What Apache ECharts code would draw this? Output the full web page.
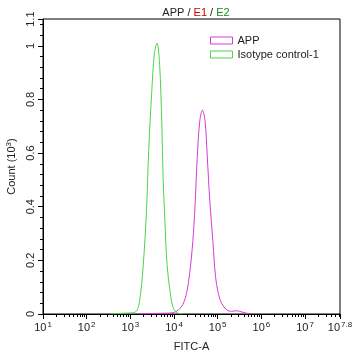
<!DOCTYPE html>
<html>
<head>
<meta charset="utf-8">
<script src="https://cdn.jsdelivr.net/npm/echarts@6/dist/echarts.min.js"></script>
<style>
  html, body { margin: 0; padding: 0; background: #fff; }
  #main { width: 354px; height: 357px; }
</style>
</head>
<body>
<div id="main"></div>
<script>
// x values are log10(FITC-A), y values are counts in 10^3
const appX = [3.2, 3.5, 3.8, 3.98, 4.10, 4.20, 4.29, 4.36, 4.43, 4.48, 4.53, 4.59, 4.65, 4.71, 4.76, 4.82, 4.89, 4.95, 5.01, 5.09, 5.21, 5.32, 5.42, 5.5, 5.63, 5.79];
const appY = [0, 0.002, 0.003, 0.005, 0.015, 0.035, 0.08, 0.155, 0.27, 0.40, 0.58, 0.72, 0.76, 0.72, 0.59, 0.42, 0.27, 0.14, 0.08, 0.04, 0.015, 0.01, 0.012, 0.01, 0.004, 0];
const isoX = [2.55, 2.7, 2.85, 3.0, 3.1, 3.17, 3.23, 3.29, 3.37, 3.42, 3.49, 3.55, 3.61, 3.67, 3.72, 3.75, 3.79, 3.84, 3.91, 3.98, 4.06, 4.14, 4.2];
const isoY = [0, 0.002, 0.003, 0.004, 0.006, 0.02, 0.07, 0.17, 0.386, 0.61, 0.83, 0.97, 1.01, 0.93, 0.71, 0.51, 0.35, 0.185, 0.083, 0.023, 0.006, 0.001, 0];

const xMajor = [1, 2, 3, 4, 5, 6, 7, 7.8];
const yMajor = [0, 0.2, 0.4, 0.6, 0.8, 1, 1.1];

// log minor ticks (2..9 of each decade)
let xMinor = [];
for (let d = 1; d < 8; d++) {
  for (let k = 2; k <= 9; k++) {
    let v = d + Math.log10(k);
    if (v < 7.8) xMinor.push(v);
  }
}
let yMinor = [];
for (let i = 1; i * 0.04 < 1.1; i++) {
  if (i % 5 !== 0) yMinor.push(+(i * 0.04).toFixed(2));
}

const zip = (xs, ys) => xs.map((x, i) => [x, ys[i]]);
const font = 'Liberation Sans, Arial, sans-serif';
const magenta = '#d43ad4';
const green = '#4cd44c';

let myChart = echarts.init(document.querySelector('#main'));
let option = {
  animation: false,
  title: {
    text: 'APP / {r|E1} / {g|E2}',
    left: 191,
    textAlign: 'center',
    top: 2,
    textStyle: {
      fontFamily: font, fontSize: 11, fontWeight: 'normal', color: '#222',
      rich: {
        r: { color: '#cc0000', fontSize: 11, fontFamily: font },
        g: { color: '#1a8a1a', fontSize: 11, fontFamily: font }
      }
    }
  },
  legend: {
    orient: 'vertical',
    left: 210,
    top: 35,
    padding: 0,
    itemWidth: 22,
    itemHeight: 7,
    itemGap: 3,
    textStyle: { fontFamily: font, fontSize: 11, color: '#222' },
    data: [
      { name: 'APP', icon: 'rect', itemStyle: { color: '#fff', borderColor: magenta, borderWidth: 1 } },
      { name: 'Isotype control-1', icon: 'rect', itemStyle: { color: '#fff', borderColor: green, borderWidth: 1 } }
    ]
  },
  grid: {
    left: 43, right: 14, top: 19, bottom: 43,
    outerBoundsMode: 'none',
    show: true, borderColor: '#000', borderWidth: 1
  },
  xAxis: [
    {
      type: 'value', min: 1, max: 7.8, interval: 1,
      position: 'bottom',
      name: 'FITC-A', nameLocation: 'middle', nameGap: 27,
      nameTextStyle: { fontFamily: font, fontSize: 11, color: '#222' },
      axisLine: { lineStyle: { color: '#000', width: 1 } },
      axisTick: { length: 5, customValues: xMajor, lineStyle: { color: '#000' } },
      splitLine: { show: false },
      axisLabel: {
        customValues: xMajor,
        margin: 7,
        color: '#222', fontFamily: font, fontSize: 11,
        formatter: v => '10{sup|' + v + '}',
        rich: {
          sup: { fontSize: 8, fontFamily: font, color: '#222', padding: [0, 0, 6, 1] }
        }
      }
    },
    {
      type: 'value', min: 1, max: 7.8,
      position: 'bottom',
      axisLine: { show: false },
      axisTick: { length: 3, customValues: xMinor, lineStyle: { color: '#000' } },
      axisLabel: { show: false },
      splitLine: { show: false }
    }
  ],
  yAxis: [
    {
      type: 'value', min: 0, max: 1.1, interval: 0.2,
      position: 'left',
      name: 'Count (10{sup|3})', nameLocation: 'middle', nameGap: 24,
      nameTextStyle: {
        fontFamily: font, fontSize: 11, color: '#222',
        rich: { sup: { fontSize: 8, fontFamily: font, color: '#222', padding: [0, 0, 6, 0] } }
      },
      axisLine: { lineStyle: { color: '#000', width: 1 } },
      axisTick: { length: 5, customValues: yMajor, lineStyle: { color: '#000' } },
      splitLine: { show: false },
      axisLabel: {
        customValues: yMajor,
        rotate: 90, margin: 7,
        color: '#222', fontFamily: font, fontSize: 11,
        formatter: v => String(v)
      }
    },
    {
      type: 'value', min: 0, max: 1.1,
      position: 'left',
      axisLine: { show: false },
      axisTick: { length: 3, customValues: yMinor, lineStyle: { color: '#000' } },
      axisLabel: { show: false },
      splitLine: { show: false }
    }
  ],
  series: [
    {
      name: 'APP', type: 'line', smooth: 0.35, showSymbol: false,
      lineStyle: { color: magenta, width: 1 }, itemStyle: { color: magenta },
      data: zip(appX, appY)
    },
    {
      name: 'Isotype control-1', type: 'line', smooth: 0.35, showSymbol: false,
      lineStyle: { color: green, width: 1 }, itemStyle: { color: green },
      data: zip(isoX, isoY)
    }
  ]
};
myChart.setOption(option);
</script>
</body>
</html>
